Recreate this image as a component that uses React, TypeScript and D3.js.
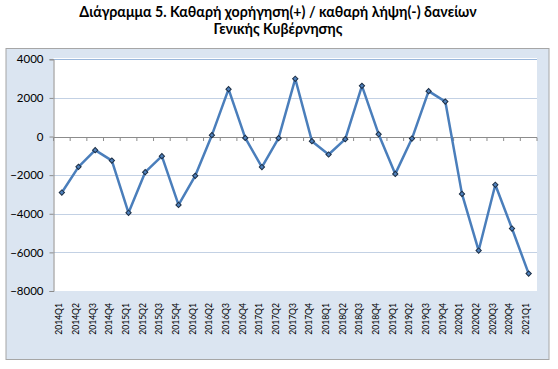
import { useEffect, useRef } from 'react'
import * as d3 from 'd3'

const quarters = [
  '2014Q1', '2014Q2', '2014Q3', '2014Q4',
  '2015Q1', '2015Q2', '2015Q3', '2015Q4',
  '2016Q1', '2016Q2', '2016Q3', '2016Q4',
  '2017Q1', '2017Q2', '2017Q3', '2017Q4',
  '2018Q1', '2018Q2', '2018Q3', '2018Q4',
  '2019Q1', '2019Q2', '2019Q3', '2019Q4',
  '2020Q1', '2020Q2', '2020Q3', '2020Q4',
  '2021Q1',
]

const netLending = [
  -2900, -1570, -705, -1245,
  -3950, -1845, -1015, -3540,
  -2035, 70, 2455, -70,
  -1580, -85, 2990, -240,
  -930, -135, 2625, 120,
  -1935, -105, 2350, 1810,
  -2970, -5905, -2500, -4765,
  -7100,
]

const yTicks = [4000, 2000, 0, -2000, -4000, -6000, -8000]

const titleLines = [
  'Διάγραμμα 5. Καθαρή χορήγηση(+) / καθαρή λήψη(-) δανείων',
  'Γενικής Κυβέρνησης',
]

const FONT = 'Lato, "Open Sans", sans-serif'

export default function App() {
  const svgRef = useRef<SVGSVGElement>(null)

  useEffect(() => {
    if (!svgRef.current) return
    const width = 558
    const height = 369
    const plot = { left: 53.5, right: 537, top: 59.3, bottom: 291 }

    d3.select(svgRef.current).selectAll('*').remove()
    const svg = d3.select(svgRef.current)
      .attr('width', width)
      .attr('height', height)

    // Title
    svg.append('g')
      .selectAll('text')
      .data(titleLines)
      .enter().append('text')
      .attr('x', 278)
      .attr('y', (_d, i) => 17 + i * 17)
      .attr('text-anchor', 'middle')
      .attr('font-family', FONT)
      .attr('font-weight', 'bold')
      .attr('font-size', '14.2px')
      .attr('fill', '#000')
      .text(d => d)

    // Outer chart frame
    svg.append('rect')
      .attr('x', 6)
      .attr('y', 48.5)
      .attr('width', 543)
      .attr('height', 311)
      .attr('fill', '#dbe5f1')
      .attr('stroke', '#a6a6a6')
      .attr('stroke-width', 1)

    // Plot area
    svg.append('rect')
      .attr('x', plot.left)
      .attr('y', plot.top - 1.3)
      .attr('width', plot.right - plot.left)
      .attr('height', plot.bottom - plot.top + 1.3)
      .attr('fill', '#ffffff')

    const x = d3.scaleBand()
      .domain(quarters)
      .range([plot.left, plot.right])
      .padding(0)

    const y = d3.scaleLinear()
      .domain([-8000, 4000])
      .range([plot.bottom, plot.top])

    // Gridlines
    svg.append('g')
      .selectAll('line')
      .data(yTicks.filter(t => t !== -8000 && t !== 0))
      .enter().append('line')
      .attr('x1', plot.left)
      .attr('x2', plot.right)
      .attr('y1', d => Math.round(y(d)) + 0.5)
      .attr('y2', d => Math.round(y(d)) + 0.5)
      .attr('stroke', d => (d === 4000 ? '#9ab7db' : '#c3d1e4'))
      .attr('stroke-width', 1)

    // Y axis
    const yAxis = d3.axisLeft(y)
      .tickValues(yTicks)
      .tickSize(4)
      .tickPadding(6)
      .tickFormat(d3.format('d'))
    const yG = svg.append('g')
      .attr('transform', `translate(${plot.left},0)`)
      .call(yAxis)
    yG.select('.domain').attr('stroke', '#8c8c8c')
    yG.selectAll('.tick line').attr('stroke', '#8c8c8c')
    yG.selectAll('.tick text')
      .attr('font-family', FONT)
      .attr('font-size', '11.5px')
      .attr('fill', '#000')

    // X axis at zero
    const boundaries = quarters.map(q => x(q) as number).concat([plot.right])
    const xG = svg.append('g')
    xG.append('line')
      .attr('x1', plot.left)
      .attr('x2', plot.right)
      .attr('y1', Math.round(y(0)) + 0.5)
      .attr('y2', Math.round(y(0)) + 0.5)
      .attr('stroke', '#8c8c8c')
    xG.selectAll('.xtick')
      .data(boundaries)
      .enter().append('line')
      .attr('class', 'xtick')
      .attr('x1', d => d)
      .attr('x2', d => d)
      .attr('y1', Math.round(y(0)) + 0.5)
      .attr('y2', Math.round(y(0)) + 4)
      .attr('stroke', '#8c8c8c')

    // Category labels (rotated)
    svg.append('g')
      .selectAll('text')
      .data(quarters)
      .enter().append('text')
      .attr('transform', d => `translate(${(x(d) as number) + x.bandwidth() / 2 + 0.5},${plot.bottom + 12}) rotate(-90)`)
      .attr('text-anchor', 'end')
      .attr('font-family', FONT)
      .attr('font-size', '8.6px')
      .attr('fill', '#000')
      .text(d => d)

    // Line
    const line = d3.line<number>()
      .x((_d, i) => (x(quarters[i]) as number) + x.bandwidth() / 2)
      .y(d => y(d))

    svg.append('path')
      .datum(netLending)
      .attr('d', line)
      .attr('fill', 'none')
      .attr('stroke', '#4a7ebb')
      .attr('stroke-width', 2.5)
      .attr('stroke-linejoin', 'round')

    // Markers
    const marker = d3.symbol().type(d3.symbolSquare).size(14)
    svg.append('g')
      .selectAll('path')
      .data(netLending)
      .enter().append('path')
      .attr('d', marker)
      .attr('transform', (d, i) => `translate(${(x(quarters[i]) as number) + x.bandwidth() / 2},${y(d)}) rotate(45)`)
      .attr('fill', '#4f81bd')
      .attr('stroke', '#1d2f45')
      .attr('stroke-width', 1)
  }, [])

  return (
    <div style={{ position: 'absolute', left: 0, top: 0 }}>
      <svg ref={svgRef}></svg>
    </div>
  )
}
